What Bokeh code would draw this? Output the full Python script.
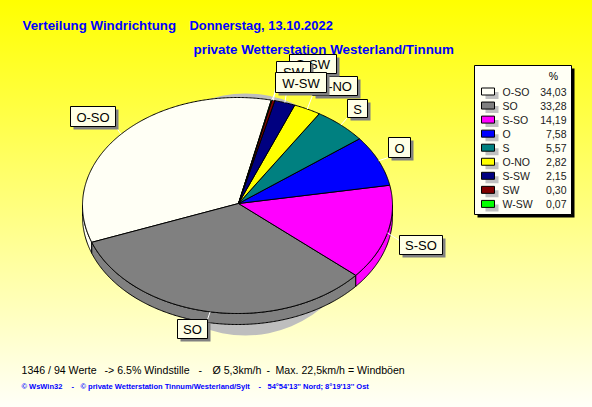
import numpy as np
from bokeh.plotting import figure
from bokeh.models import Range1d
from bokeh.core.properties import value
from bokeh.embed import file_html
from bokeh.resources import INLINE

# ---- data ----
categories = ["O-SO", "SO", "S-SO", "O", "S", "O-NO", "S-SW", "SW", "W-SW"]
percent = [34.03, 33.28, 14.19, 7.58, 5.57, 2.82, 2.15, 0.30, 0.07]
percent_labels = ["34,03", "33,28", "14,19", "7,58", "5,57", "2,82", "2,15", "0,30", "0,07"]
title_1a = "Verteilung Windrichtung"
title_1b = "Donnerstag, 13.10.2022"
title_2 = "private Wetterstation Westerland/Tinnum"
footer_1 = ["1346 / 94 Werte", "-> 6.5% Windstille", "-", "Ø 5,3km/h", "-", "Max. 22,5km/h = Windböen"]
footer_2 = ["© WsWin32", "-", "© private Wetterstation Tinnum/Westerland/Sylt", "-", "54°54'13'' Nord; 8°19'13'' Ost"]

# ---- styles / layout ----
colors = ["#FFFFF5", "#808080", "#FF00FF", "#0000FF", "#008080", "#FFFF00", "#000080", "#800000", "#00FF00"]
CX, CY, RX, RY, DEPTH, START = 237, 205, 155, 108, 11, 77.4
APEX_X, APEX_Y = 238, 203
footer_1_x = [21, 104, 198, 212, 266, 275]
footer_2_x = [21, 71, 80, 258, 267]
# label boxes: left, top, right, bottom (page pixels)
label_boxes = {
    "O-SO": (70, 106, 115, 126), "S-SO": (399, 235, 442, 254), "SO": (177, 319, 207, 338),
    "O": (388, 137, 410, 157), "S": (347, 99, 367, 117), "O-NO": (312, 76, 357, 95),
    "S-SW": (289, 54, 336, 73), "SW": (276, 61, 310, 81), "W-SW": (275, 72, 326, 92),
}
label_anchor = {
    "O-SO": (115, 126), "S-SO": (399, 240), "SO": (207, 319), "O": (388, 157), "S": (347, 117),
    "O-NO": (312, 95), "S-SW": (289, 73), "SW": (276, 81), "W-SW": (275, 92),
}
FONT = value("Liberation Sans")

p = figure(width=592, height=407, output_backend="svg", toolbar_location=None,
           x_range=Range1d(0, 592), y_range=Range1d(407, 0), min_border=0,
           background_fill_alpha=0, border_fill_alpha=0, outline_line_color=None)
p.axis.visible = False
p.grid.visible = False


def arc(t0, t1, dy=0.0):
    t = np.radians(np.linspace(t0, t1, max(3, int(abs(t1 - t0) * 2))))
    return CX + RX * np.cos(t), CY + dy - RY * np.sin(t)


# angles of the slices, counter-clockwise
frac = np.array(percent) / sum(percent) * 360
edges = START + np.concatenate([[0], np.cumsum(frac)])

# drop shadow
p.ellipse(x=[245], y=[214], width=[240], height=[242], fill_color="#BEBEBE", line_color=None)

# side wall (only the lower half of the ellipse shows)
for i, c in enumerate(colors):
    a, b = max(edges[i], 180), min(edges[i + 1], 360)
    if b > a:
        x0, y0 = arc(a, b)
        x1, y1 = arc(b, a, DEPTH)
        p.patch(np.r_[x0, x1], np.r_[y0, y1], fill_color=c, line_color="black", line_width=1)

# top surface
for i, c in enumerate(colors):
    x0, y0 = arc(edges[i], edges[i + 1])
    p.patch(np.r_[APEX_X, x0], np.r_[APEX_Y, y0], fill_color=c, line_color="black", line_width=1)

# leader lines
for name in categories:
    i = categories.index(name)
    t = np.radians((edges[i] + edges[i + 1]) / 2)
    ex, ey = CX + RX * np.cos(t), CY - RY * np.sin(t)
    ax, ay = label_anchor[name]
    p.line([ex, ax], [ey, ay], line_color="white", line_width=1)

# labels
for name in categories:
    l, t, r, b = label_boxes[name]
    p.quad(left=[l + 3], right=[r + 3], top=[t + 3], bottom=[b + 3], fill_color="#808080", line_color=None)
    p.quad(left=[l], right=[r], top=[t], bottom=[b], fill_color="#FFFFE6", line_color="black", line_width=1)
    p.text(x=[(l + r) / 2], y=[(t + b) / 2 + 0.5], text=[name], text_font=FONT, text_font_size="13px",
           text_align="center", text_baseline="middle", text_color="black")

# legend
p.quad(left=[477], right=[574], top=[68], bottom=[217], fill_color="black", line_color=None)
p.quad(left=[474], right=[571], top=[65], bottom=[214], fill_color="#FFFFF5", line_color="black", line_width=1)
p.text(x=[553], y=[75], text=["%"], text_font=FONT, text_font_size="10.5px",
       text_align="center", text_baseline="middle", text_color="black")
row_y = 91 + 14.05 * np.arange(len(categories))
p.quad(left=481 + 4, right=494 + 4, top=row_y - 3.5 + 4, bottom=row_y + 3.5 + 4, fill_color="#C0C0C0", line_color=None)
p.quad(left=481, right=494, top=row_y - 3.5, bottom=row_y + 3.5, fill_color=colors, line_color="black", line_width=1)
p.text(x=[502] * len(categories), y=row_y, text=categories, text_font=FONT, text_font_size="10.5px",
       text_baseline="middle", text_color="#202020")
p.text(x=[566] * len(categories), y=row_y, text=percent_labels, text_font=FONT, text_font_size="10.5px",
       text_align="right", text_baseline="middle", text_color="#202020")

# titles and footers
p.text(x=[22], y=[25], text=[title_1a], text_font=FONT, text_font_size="13.3px", text_font_style="bold",
       text_baseline="middle", text_color="#0000FF")
p.text(x=[189], y=[25], text=[title_1b], text_font=FONT, text_font_size="12.9px", text_font_style="bold",
       text_baseline="middle", text_color="#0000FF")
p.text(x=[193], y=[49], text=[title_2], text_font=FONT, text_font_size="13.4px", text_font_style="bold",
       text_baseline="middle", text_color="#0000FF")
p.text(x=footer_1_x, y=[369] * len(footer_1), text=footer_1, text_font=FONT, text_font_size="10.6px",
       text_baseline="middle", text_color="black")
p.text(x=footer_2_x, y=[386] * len(footer_2), text=footer_2, text_font=FONT, text_font_size="7.5px",
       text_font_style="bold", text_baseline="middle", text_color="#0000FF")

html = file_html(p, INLINE)
page_bg = "<style>html{background:linear-gradient(180deg,#FFFF00 0px,#FFFFF8 407px);height:407px;overflow:hidden}body{background:transparent}</style>"
html = html.replace("</head>", page_bg + "</head>", 1)
open("out.html", "w").write(html)
